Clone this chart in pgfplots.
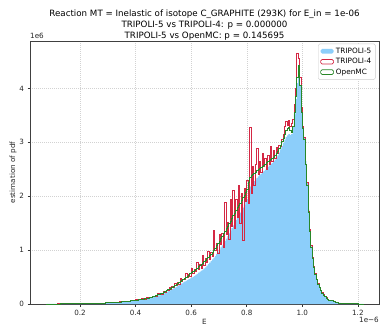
\documentclass[border=0pt]{standalone}
\usepackage{fontspec}
\setmainfont{DejaVu Sans}
\usepackage{pgfplots}
\usepackage{pgfplotstable}
\pgfplotsset{compat=1.18}
\definecolor{t5blue}{RGB}{140,206,250}
\definecolor{t4red}{RGB}{212,40,68}
\definecolor{omcgreen}{RGB}{40,135,40}
\pgfplotstableread{
x G B R
0.08 0 0 0
0.08 0.001 0.001 0.001
0.09 0.001 0.001 0.001
0.10 0.002 0.002 0.002
0.11 0.002 0.002 0.002
0.12 0.002 0.002 0.003
0.13 0.003 0.003 0.003
0.14 0.003 0.003 0.003
0.15 0.004 0.004 0.004
0.16 0.004 0.004 0.005
0.17 0.005 0.005 0.005
0.18 0.006 0.006 0.006
0.19 0.007 0.006 0.007
0.20 0.008 0.007 0.008
0.21 0.009 0.008 0.009
0.22 0.010 0.009 0.010
0.23 0.011 0.010 0.012
0.24 0.013 0.012 0.013
0.25 0.014 0.013 0.014
0.26 0.016 0.015 0.017
0.27 0.018 0.016 0.018
0.28 0.020 0.018 0.021
0.29 0.022 0.020 0.022
0.30 0.025 0.023 0.026
0.31 0.028 0.026 0.027
0.32 0.031 0.029 0.033
0.33 0.035 0.032 0.034
0.34 0.039 0.036 0.040
0.35 0.044 0.040 0.043
0.36 0.049 0.045 0.052
0.37 0.055 0.050 0.053
0.38 0.061 0.056 0.065
0.39 0.068 0.062 0.064
0.40 0.075 0.069 0.078
0.41 0.083 0.076 0.080
0.42 0.092 0.084 0.098
0.43 0.100 0.092 0.095
0.44 0.110 0.100 0.120
0.45 0.125 0.113 0.118
0.46 0.140 0.126 0.150
0.47 0.160 0.143 0.150
0.48 0.180 0.160 0.200
0.49 0.200 0.178 0.185
0.500 0.22 0.196 0.24
0.505 0.235 0.21 0.22
0.510 0.25 0.222 0.26
0.515 0.265 0.235 0.25
0.520 0.28 0.248 0.31
0.525 0.295 0.26 0.28
0.530 0.31 0.275 0.32
0.535 0.33 0.29 0.30
0.540 0.345 0.305 0.38
0.545 0.36 0.318 0.35
0.550 0.38 0.335 0.40
0.555 0.40 0.352 0.37
0.560 0.42 0.37 0.47
0.565 0.44 0.385 0.42
0.570 0.46 0.40 0.46
0.575 0.48 0.415 0.45
0.580 0.50 0.43 0.56
0.585 0.52 0.445 0.50
0.590 0.54 0.46 0.55
0.595 0.56 0.475 0.52
0.600 0.58 0.49 0.66
0.605 0.60 0.505 0.56
0.610 0.62 0.52 0.64
0.615 0.64 0.54 0.60
0.620 0.665 0.56 0.78
0.625 0.69 0.58 0.64
0.630 0.71 0.60 0.74
0.635 0.735 0.62 0.66
0.640 0.76 0.64 0.90
0.645 0.785 0.66 0.72
0.650 0.81 0.68 0.84
0.655 0.84 0.71 0.78
0.660 0.87 0.74 0.98
0.665 0.90 0.77 0.82
0.670 0.93 0.80 0.96
0.675 0.965 0.83 0.88
0.680 1.00 0.86 1.37
0.685 1.04 0.895 1.00
0.690 1.08 0.93 1.12
0.695 1.125 0.97 0.94
0.700 1.17 1.01 1.30
0.705 1.215 1.05 1.10
0.710 1.26 1.09 1.32
0.715 1.305 1.13 1.05
0.720 1.35 1.17 1.88
0.725 1.395 1.215 1.30
0.730 1.44 1.26 1.52
0.735 1.49 1.31 1.20
0.740 1.54 1.36 1.95
0.745 1.59 1.41 1.45
0.750 1.64 1.46 2.10
0.755 1.69 1.51 1.40
0.760 1.74 1.56 1.95
0.765 1.785 1.605 1.60
0.770 1.83 1.65 2.20
0.775 1.875 1.695 1.50
0.780 1.92 1.74 2.05
0.785 1.97 1.79 1.19
0.790 2.02 1.84 2.15
0.795 2.07 1.895 1.90
0.800 2.12 1.95 2.30
0.805 2.25 2.08 1.87
0.810 2.35 2.18 3.28
0.815 2.38 2.22 2.05
0.820 2.40 2.25 2.55
0.825 2.42 2.28 2.20
0.830 2.45 2.31 2.60
0.835 2.48 2.34 2.89
0.840 2.50 2.37 2.40
0.845 2.52 2.40 2.65
0.850 2.54 2.42 2.45
0.855 2.56 2.445 2.80
0.860 2.58 2.47 2.55
0.865 2.60 2.495 2.70
0.870 2.62 2.52 2.50
0.875 2.64 2.545 2.75
0.880 2.66 2.57 2.60
0.885 2.68 2.595 2.92
0.890 2.70 2.62 2.65
0.895 2.73 2.65 2.85
0.900 2.76 2.68 2.70
0.905 2.80 2.72 2.90
0.910 2.84 2.76 2.80
0.915 2.89 2.81 2.95
0.920 2.95 2.87 2.92
0.925 3.01 2.93 3.05
0.930 3.08 2.99 3.15
0.935 3.15 3.05 3.30
0.940 3.22 3.10 3.38
0.945 3.26 3.13 3.32
0.950 3.28 3.15 3.40
0.955 3.22 3.14 3.30
0.960 3.18 3.15 3.35
0.965 3.30 3.28 3.42
0.970 3.55 3.52 3.70
0.975 3.85 3.80 4.00
0.980 4.20 4.10 4.65
0.985 4.42 4.30 4.55
0.990 4.05 4.05 4.20
0.995 3.55 3.60 3.65
1.000 3.25 3.30 3.30
1.005 3.05 3.10 3.10
1.010 2.60 2.65 2.60
1.015 2.20 2.25 2.25
1.020 1.70 1.75 1.72
1.025 1.35 1.38 1.38
1.030 1.05 1.07 1.08
1.035 0.85 0.86 0.87
1.040 0.68 0.69 0.70
1.045 0.55 0.55 0.56
1.050 0.45 0.45 0.46
1.055 0.37 0.37 0.38
1.060 0.30 0.30 0.31
1.065 0.25 0.25 0.26
1.070 0.20 0.20 0.21
1.075 0.165 0.165 0.17
1.080 0.135 0.13 0.14
1.085 0.11 0.108 0.115
1.090 0.09 0.088 0.092
1.095 0.075 0.072 0.077
1.100 0.060 0.058 0.062
1.11 0.040 0.040 0.042
1.12 0.030 0.028 0.030
1.13 0.020 0.019 0.021
1.14 0.015 0.014 0.015
1.15 0.010 0.010 0.011
1.16 0.007 0.007 0.007
1.17 0.005 0.005 0.005
1.18 0.004 0.004 0.004
1.19 0.003 0.003 0.003
1.20 0.002 0.002 0.002
1.21 0.001 0.001 0.001
1.22 0 0 0
}\hist
\begin{document}
\begin{tikzpicture}
\begin{axis}[
  name=ax,
  scale only axis,
  width=349pt, height=263pt,
  xmin=0.02, xmax=1.276,
  ymin=0, ymax=4.88,
  xtick={0.2,0.4,0.6,0.8,1.0,1.2},
  xticklabels={0.2,0.4,0.6,0.8,1.0,1.2},
  ytick={0,1,2,3,4},
  /pgf/number format/assume math mode=true,
  tick label style={font=\fontsize{7.2}{8}\selectfont, text=black!85},
  label style={font=\fontsize{7.2}{8}\selectfont, text=black!85},
  tick align=outside,
  tick pos=left,
  major tick length=2.5pt,
  tick style={black!80, line width=0.5pt},
  axis line style={black!75, line width=0.6pt},
  grid=major,
  grid style={gray!35, dash pattern=on 1pt off 1pt, line width=0.4pt},
  xlabel={E},
  ylabel={estimation of pdf},
  xlabel style={yshift=3pt},
  ylabel style={yshift=-4pt},
  legend cell align=left,
  legend style={font=\fontsize{7.3}{9}\selectfont, draw=gray!40, rounded corners=1.5pt,
    at={(0.99,0.99)}, anchor=north east, inner sep=2pt, row sep=-0.5pt},
  legend image code/.code={\path[#1] (0pt,-2.3pt) rectangle (13pt,2.3pt);},
]
\addplot[fill=t5blue, draw=none, const plot mark left, forget plot] table[x=x, y=B] {\hist} \closedcycle;
\addlegendimage{fill=t5blue, draw=none}
\addlegendentry{TRIPOLI-5}
\addplot[draw=t4red, line width=0.7pt, const plot mark left] table[x=x, y=R] {\hist};
\addlegendentry{TRIPOLI-4}
\addplot[draw=omcgreen, line width=0.7pt, const plot mark left] table[x=x, y=G] {\hist};
\addlegendentry{OpenMC}
\end{axis}
\node[anchor=south west, font=\fontsize{7.2}{8}\selectfont, text=black!85, inner sep=0pt] at ([yshift=2pt]ax.north west) {1e6};
\node[anchor=north east, font=\fontsize{7.2}{8}\selectfont, text=black!85, inner sep=0pt] at ([yshift=-13pt]ax.south east) {1e−6};
\node[align=center, font=\fontsize{8.7}{11}\selectfont, anchor=south, inner sep=0pt] at ([yshift=0pt]ax.north) {Reaction MT = Inelastic of isotope C\_GRAPHITE (293K) for E\_in = 1e-06\\TRIPOLI-5 vs TRIPOLI-4: p = 0.000000\\TRIPOLI-5 vs OpenMC: p = 0.145695};
\pgfresetboundingbox
\path ([shift={(-30pt,-23pt)}]ax.south west) rectangle ([shift={(4pt,41pt)}]ax.north east);
\end{tikzpicture}
\end{document}
